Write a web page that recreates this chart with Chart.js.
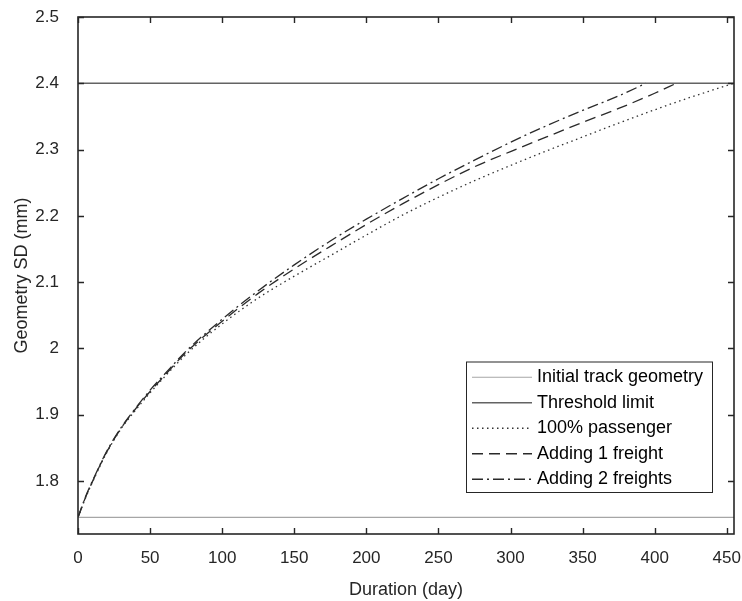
<!DOCTYPE html>
<html>
<head>
<meta charset="utf-8">
<script src="https://cdn.jsdelivr.net/npm/chart.js@4"></script>
<style>
  html, body { margin: 0; padding: 0; background: #fff; }
  canvas { display: block; }
</style>
</head>
<body>
<canvas id="sdChart" width="742" height="601"></canvas>
<script>
// values
const daysPassenger = [0, 5, 10, 20, 30, 40, 50, 60, 75, 100, 125, 150, 175, 200, 225, 250, 275, 300, 325, 350, 375, 400, 425, 455];
const passenger = [1.745, 1.773, 1.798, 1.843, 1.879, 1.907, 1.933, 1.957, 1.991, 2.037, 2.076, 2.109, 2.140, 2.171, 2.201, 2.228, 2.253, 2.276, 2.298, 2.319, 2.340, 2.360, 2.379, 2.400];

const daysOneFreight = [0, 5, 10, 20, 30, 40, 50, 60, 75, 100, 125, 150, 175, 200, 225, 250, 275, 300, 325, 350, 375, 400, 415];
const oneFreight = [1.745, 1.774, 1.799, 1.844, 1.880, 1.909, 1.935, 1.959, 1.994, 2.041, 2.083, 2.120, 2.154, 2.187, 2.218, 2.247, 2.274, 2.297, 2.319, 2.341, 2.362, 2.385, 2.400];

const daysTwoFreights = [0, 5, 10, 20, 30, 40, 50, 60, 75, 100, 125, 150, 175, 200, 225, 250, 275, 300, 325, 350, 375, 394];
const twoFreights = [1.745, 1.775, 1.800, 1.845, 1.881, 1.910, 1.937, 1.961, 1.996, 2.044, 2.087, 2.126, 2.162, 2.195, 2.226, 2.256, 2.284, 2.311, 2.336, 2.359, 2.381, 2.400];

const initialGeometry = 1.745;
const thresholdLimit = 2.4;
const xRange = [0, 455];
const yRange = [1.72, 2.5];
const xTicks = [0, 50, 100, 150, 200, 250, 300, 350, 400, 450];
const yTicks = [1.8, 1.9, 2.0, 2.1, 2.2, 2.3, 2.4, 2.5];

const axisColor = "#262626";
const font = "'Liberation Sans', Arial, Helvetica, sans-serif";

const toPoints = (xs, ys) => xs.map((x, i) => ({ x, y: ys[i] }));

const datasets = [
  {
    label: "Initial track geometry",
    data: toPoints(xRange, [initialGeometry, initialGeometry]),
    borderColor: "#a6a6a6", borderWidth: 1.2, borderDash: []
  },
  {
    label: "Threshold limit",
    data: toPoints(xRange, [thresholdLimit, thresholdLimit]),
    borderColor: "#636363", borderWidth: 1.6, borderDash: []
  },
  {
    label: "100% passenger",
    data: toPoints(daysPassenger, passenger),
    borderColor: "#333333", borderWidth: 1.3, borderDash: [1.5, 3.5]
  },
  {
    label: "Adding 1 freight",
    data: toPoints(daysOneFreight, oneFreight),
    borderColor: "#2a2a2a", borderWidth: 1.3, borderDash: [11, 6]
  },
  {
    label: "Adding 2 freights",
    data: toPoints(daysTwoFreights, twoFreights),
    borderColor: "#2a2a2a", borderWidth: 1.3, borderDash: [11, 4, 2, 4]
  }
].map((d) => ({ ...d, pointRadius: 0, fill: false, cubicInterpolationMode: "monotone" }));

// box, inward ticks and the legend drawn in MATLAB style
const matlabFrame = {
  id: "matlabFrame",
  afterDraw(chart) {
    const { ctx, chartArea: a, scales } = chart;
    ctx.save();
    ctx.strokeStyle = axisColor;
    ctx.lineWidth = 1.6;
    ctx.setLineDash([]);
    ctx.strokeRect(a.left, a.top, a.right - a.left, a.bottom - a.top);
    ctx.lineWidth = 1.4;
    const tl = 6;
    ctx.beginPath();
    xTicks.forEach((v) => {
      const px = Math.round(scales.x.getPixelForValue(v)) + 0.5;
      ctx.moveTo(px, a.bottom); ctx.lineTo(px, a.bottom - tl);
      ctx.moveTo(px, a.top); ctx.lineTo(px, a.top + tl);
    });
    yTicks.forEach((v) => {
      const py = Math.round(scales.y.getPixelForValue(v)) + 0.5;
      ctx.moveTo(a.left, py); ctx.lineTo(a.left + tl, py);
      ctx.moveTo(a.right, py); ctx.lineTo(a.right - tl, py);
    });
    ctx.stroke();

    // legend
    const boxW = 246, rowH = 25.5, boxH = rowH * datasets.length + 3;
    const bx = a.right - 22 - boxW, by = a.bottom - 42 - boxH;
    ctx.fillStyle = "#fff";
    ctx.fillRect(bx, by, boxW, boxH);
    ctx.strokeStyle = "#262626";
    ctx.lineWidth = 1;
    ctx.strokeRect(bx + 0.5, by + 0.5, boxW, boxH);
    ctx.font = "18px " + font;
    ctx.textBaseline = "middle";
    ctx.fillStyle = "#000";
    chart.data.datasets.forEach((d, i) => {
      const cy = by + 3 + rowH * i + rowH / 2;
      ctx.strokeStyle = d.borderColor;
      ctx.lineWidth = d.borderWidth;
      ctx.setLineDash(d.borderDash);
      ctx.beginPath();
      ctx.moveTo(bx + 6, cy); ctx.lineTo(bx + 66, cy);
      ctx.stroke();
      ctx.setLineDash([]);
      ctx.fillText(d.label, bx + 71, cy);
    });
    ctx.restore();
  }
};

new Chart(document.getElementById("sdChart"), {
  type: "line",
  data: { datasets },
  options: {
    responsive: false,
    animation: false,
    layout: { padding: { top: 17, right: 8, left: 0, bottom: 0 } },
    plugins: { legend: { display: false }, tooltip: { enabled: false } },
    scales: {
      x: {
        type: "linear",
        min: xRange[0], max: xRange[1],
        afterBuildTicks: (s) => { s.ticks = xTicks.map((v) => ({ value: v })); },
        afterFit: (s) => { s.height = 67; s.paddingLeft = 0; s.paddingRight = 0; },
        grid: { display: false },
        border: { display: false },
        ticks: { color: axisColor, font: { family: font, size: 17 }, padding: 6, maxRotation: 0 },
        title: { display: true, text: "Duration (day)", color: axisColor, font: { family: font, size: 18 }, padding: { top: 0, bottom: 0 } }
      },
      y: {
        type: "linear",
        min: yRange[0], max: yRange[1],
        afterBuildTicks: (s) => { s.ticks = yTicks.map((v) => ({ value: v })); },
        afterFit: (s) => { s.width = 78; s.paddingTop = 0; s.paddingBottom = 0; },
        grid: { display: false },
        border: { display: false },
        ticks: { color: axisColor, font: { family: font, size: 17 }, padding: 11, callback: (v) => String(Number(v.toFixed(1))) },
        title: { display: true, text: "Geometry SD (mm)", color: axisColor, font: { family: font, size: 18 }, padding: { top: 11, bottom: 0 } }
      }
    }
  },
  plugins: [matlabFrame]
});
</script>
</body>
</html>
